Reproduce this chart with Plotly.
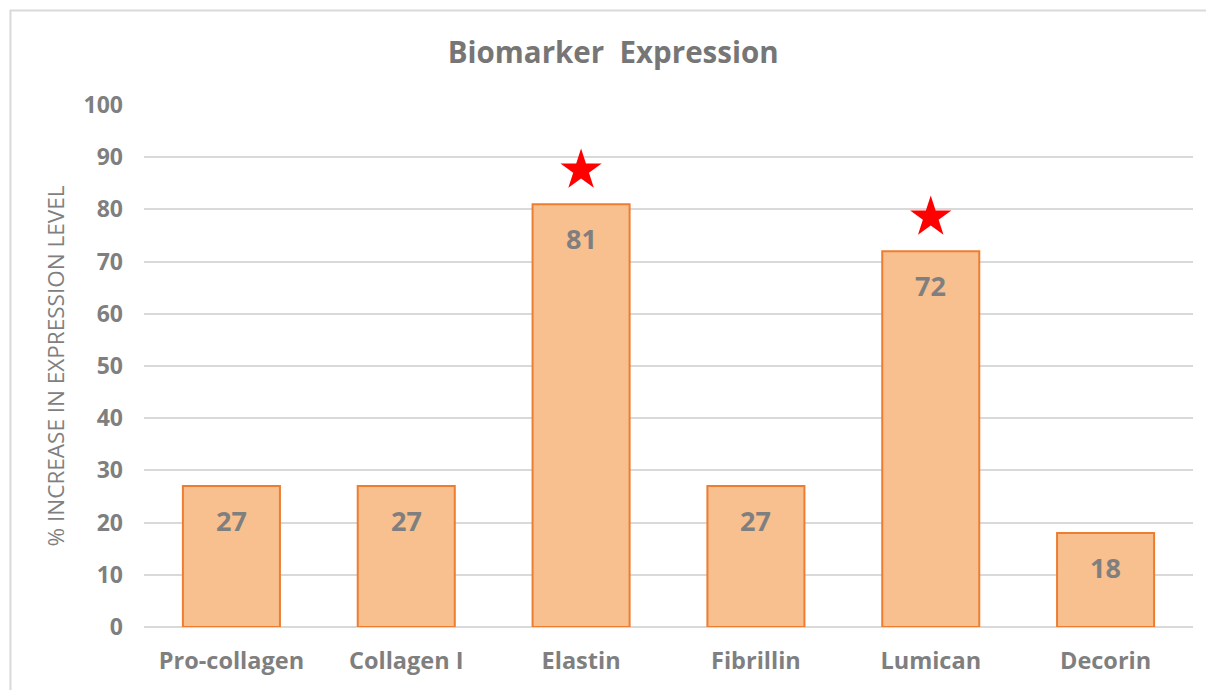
import plotly.graph_objects as go

categories = ["Pro-collagen", "Collagen I", "Elastin", "Fibrillin", "Lumican", "Decorin"]
values = [27, 27, 81, 27, 72, 18]
star_categories = ["Elastin", "Lumican"]
star_values = [87.5, 78.5]
y_ticks = [0, 10, 20, 30, 40, 50, 60, 70, 80, 90, 100]

GRAY = "#7f7f7f"
FONT = "Open Sans"

fig = go.Figure()
fig.add_trace(go.Bar(
    x=categories, y=values,
    marker=dict(color="#f8bf8f", line=dict(color="#ed7d31", width=2)),
    hoverinfo="x+y",
))
fig.add_trace(go.Scatter(
    x=star_categories, y=star_values, mode="markers",
    marker=dict(symbol="star", size=31, color="#ff0000", line=dict(width=0)),
    hoverinfo="skip",
))

for c, v in zip(categories, values):
    fig.add_annotation(x=c, y=v, yshift=-34, text=f"<b>{v}</b>", showarrow=False,
                       font=dict(family=FONT, size=27, color=GRAY))

fig.add_shape(type="rect", xref="paper", yref="paper",
              x0=-0.1273, x1=1.04, y0=-0.16, y1=1.181,
              line=dict(color="#d9d9d9", width=2), fillcolor="rgba(0,0,0,0)", layer="below")

fig.update_layout(
    width=1214, height=690,
    margin=dict(l=136, r=29, t=97, b=71),
    paper_bgcolor="white", plot_bgcolor="white",
    showlegend=False,
    bargap=0.445,
    title=dict(text="<b>Biomarker\u00a0\u00a0Expression</b>", x=0.4985, xanchor="center",
               y=0.935, yanchor="middle",
               font=dict(family=FONT, size=29.5, color="#767676")),
    font=dict(family=FONT, color=GRAY),
    xaxis=dict(
        showgrid=False, showline=False, zeroline=False, ticks="",
        tickfont=dict(family=FONT, size=23.5, color=GRAY, weight="bold"),
        ticklabelstandoff=17,
    ),
    yaxis=dict(
        range=[0, 100], tickvals=y_ticks, showgrid=True, gridcolor="#d9d9d9", gridwidth=1.5,
        zeroline=True, zerolinecolor="#d9d9d9", zerolinewidth=1.5, showline=False,
        tickfont=dict(family=FONT, size=23, color=GRAY, weight="bold"),
        ticklabelstandoff=20,
        title=dict(text="% INCREASE IN EXPRESSION LEVEL", standoff=12,
                   font=dict(family=FONT, size=22.5, color=GRAY)),
    ),
)

fig.write_html("out.html")
